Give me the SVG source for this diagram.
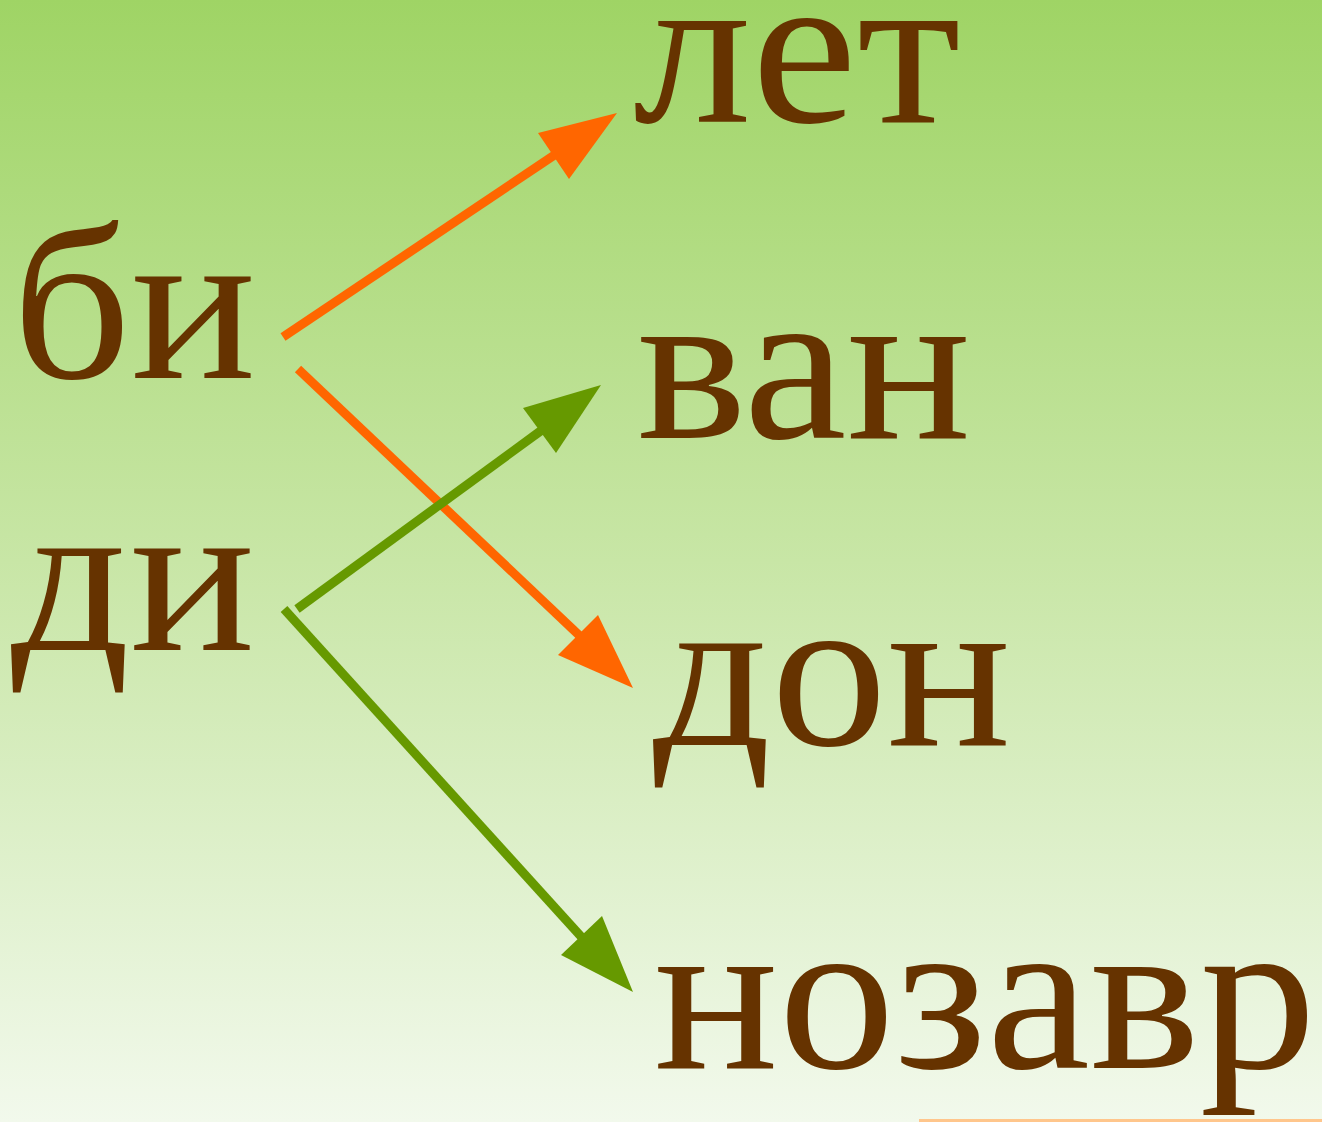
<svg xmlns="http://www.w3.org/2000/svg" width="1322" height="1122" viewBox="0 0 1322 1122">
<defs>
<linearGradient id="bg" x1="0" y1="0" x2="0" y2="1">
<stop offset="0" stop-color="#9fd465"/>
<stop offset="0.5" stop-color="#c8e6a6"/>
<stop offset="1" stop-color="#f2f9ec"/>
</linearGradient>
<style>
.t{font-family:"Liberation Serif","Times New Roman",serif;font-size:220px;fill:#663300}
.o{stroke:#ff6600;stroke-width:9;fill:none}
.g{stroke:#669900;stroke-width:9;fill:none}
</style>
</defs>
<rect width="1322" height="1122" fill="url(#bg)"/>
<rect x="919" y="1119" width="403" height="3" fill="#ffc68c"/>
<g id="connectors">
<line class="o" x1="283" y1="337" x2="556" y2="154"/>
<polygon points="538,133 617,113 569,179" fill="#ff6600"/>
<line class="o" x1="298" y1="369" x2="582" y2="638"/>
<polygon points="558,655 633,688 598,615" fill="#ff6600"/>
<line class="g" x1="297" y1="609" x2="546" y2="427"/>
<polygon points="523,408 601,385 556,453" fill="#669900"/>
<line class="g" x1="284" y1="609" x2="586" y2="942"/>
<polygon points="561,955 633,992 602,916" fill="#669900"/>
</g>
<g id="bi"><text class="t" x="12" y="378" textLength="244" lengthAdjust="spacingAndGlyphs">би</text></g>
<g id="di"><text class="t" x="11" y="650" textLength="244" lengthAdjust="spacingAndGlyphs">ди</text></g>
<g id="let"><text class="t" x="633" y="122" textLength="328" lengthAdjust="spacingAndGlyphs">лет</text></g>
<g id="van"><text class="t" x="637" y="438" textLength="334" lengthAdjust="spacingAndGlyphs">ван</text></g>
<g id="don"><text class="t" x="653" y="745" textLength="358" lengthAdjust="spacingAndGlyphs">дон</text></g>
<g id="nozavr"><text class="t" x="654" y="1068" textLength="662" lengthAdjust="spacingAndGlyphs">нозавр</text></g>
</svg>
